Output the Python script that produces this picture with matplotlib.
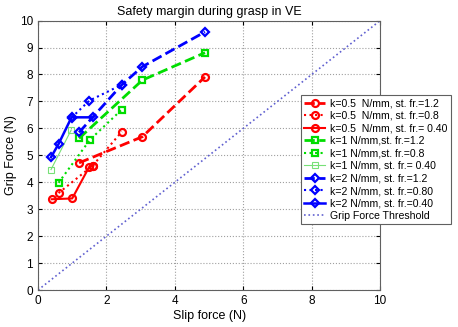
import matplotlib
matplotlib.use("Agg")
import matplotlib.pyplot as plt

plt.rcParams['font.family'] = ['Liberation Sans', 'DejaVu Sans']

## slip force (x) and grip force (y) for each condition
x_k05_12 = [1.2, 3.05, 4.88]
y_k05_12 = [4.72, 5.69, 7.91]
x_k05_08 = [0.6, 1.6, 2.45]
y_k05_08 = [3.6, 4.62, 5.88]
x_k05_04 = [0.4, 1.0, 1.5, 1.62]
y_k05_04 = [3.37, 3.4, 4.58, 4.62]

x_k1_12 = [1.2, 3.05, 4.88]
y_k1_12 = [5.63, 7.79, 8.81]
x_k1_08 = [0.6, 1.52, 2.45]
y_k1_08 = [3.98, 5.58, 6.7]
x_k1_04 = [0.38, 0.97]
y_k1_04 = [4.47, 5.94]

x_k2_12 = [1.2, 2.45, 3.05, 4.88]
y_k2_12 = [5.85, 7.62, 8.29, 9.58]
x_k2_08 = [0.98, 1.5, 2.45]
y_k2_08 = [6.4, 7.03, 7.62]
x_k2_04 = [0.38, 0.6, 0.98, 1.62]
y_k2_04 = [4.93, 5.42, 6.41, 6.41]

x_thr = [0, 10]
y_thr = [0, 10]

labels = ["k=0.5  N/mm, st. fr.=1.2",
          "k=0.5  N/mm, st. fr.=0.8",
          "k=0.5  N/mm, st. fr.= 0.40",
          "k=1 N/mm,st. fr.=1.2",
          "k=1 N/mm,st. fr.=0.8",
          "k=1 N/mm, st. fr.= 0.40",
          "k=2 N/mm, st. fr.=1.2",
          "k=2 N/mm, st. fr.=0.80",
          "k=2 N/mm, st. fr.=0.40",
          "Grip Force Threshold"]

fig = plt.figure(figsize=(4.58, 3.27), dpi=100)
ax = fig.add_axes([0.083, 0.113, 0.747, 0.824])

red = '#ff0000'
green = '#00dd00'
lgreen = '#77e077'
blue = '#0000ff'

ax.plot(x_k05_12, y_k05_12, '--o', color=red, lw=2, ms=5, mfc='none', mew=1.6, label=labels[0])
ax.plot(x_k05_08, y_k05_08, ':o', color=red, lw=1.5, ms=5, mfc='none', mew=1.6, label=labels[1])
ax.plot(x_k05_04, y_k05_04, '-o', color=red, lw=1.5, ms=5, mfc='none', mew=1.6, label=labels[2])

ax.plot(x_k1_12, y_k1_12, '--s', color=green, lw=2, ms=5, mfc='none', mew=1.6, label=labels[3])
ax.plot(x_k1_08, y_k1_08, ':s', color=green, lw=1.5, ms=5, mfc='none', mew=1.6, label=labels[4])
ax.plot(x_k1_04, y_k1_04, '-s', color=lgreen, lw=0.8, ms=4.5, mfc='none', mew=0.8, label=labels[5])

ax.plot(x_k2_12, y_k2_12, '--D', color=blue, lw=2, ms=4, mfc='none', mew=1.6, label=labels[6])
ax.plot(x_k2_08, y_k2_08, ':D', color=blue, lw=1.5, ms=4, mfc='none', mew=1.6, label=labels[7])
ax.plot(x_k2_04, y_k2_04, '-D', color=blue, lw=1.8, ms=4, mfc='none', mew=1.6, label=labels[8])

ax.plot(x_thr, y_thr, ':', color='#6060d0', lw=1.2, label=labels[9])

ax.set_xlim(0, 10)
ax.set_ylim(0, 10)
ax.set_xticks([0, 2, 4, 6, 8, 10])
ax.set_yticks(range(0, 11))
ax.grid(True, linestyle=':', color='#a0a0a0', lw=0.8)
ax.tick_params(direction='in', labelsize=8.5, top=True, right=True, length=3)
for s in ax.spines.values():
    s.set_color('#606060')
    s.set_linewidth(0.8)

ax.set_title("Safety margin during grasp in VE", fontsize=9, pad=4)
ax.set_xlabel("Slip force (N)", fontsize=9, labelpad=2)
ax.set_ylabel("Grip Force (N)", fontsize=9, labelpad=2)

leg = ax.legend(loc='upper left', bbox_to_anchor=(0.657, 0.709), bbox_transform=fig.transFigure,
                fontsize=7.6, fancybox=False, edgecolor='#606060', framealpha=1,
                borderaxespad=0, handlelength=2.0, handletextpad=0.5,
                labelspacing=0.24, borderpad=0.3)
leg.get_frame().set_linewidth(0.8)

fig.savefig("out.png", dpi=100)
